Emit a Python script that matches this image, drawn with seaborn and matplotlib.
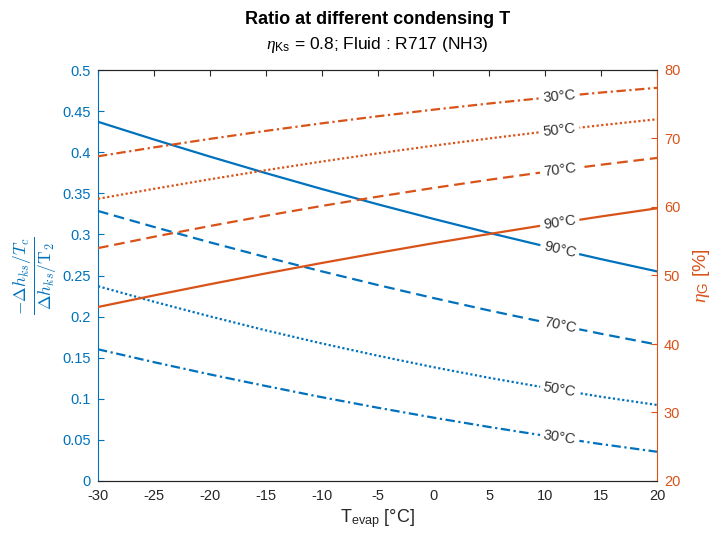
import numpy as np
import pandas as pd
import matplotlib
matplotlib.use("Agg")
import matplotlib.pyplot as plt
import seaborn as sns

# ---------------- data ----------------
t_evap = [-30, -25, -20, -15, -10, -5, 0, 5, 10, 15, 20]
cond_labels = ["30°C", "50°C", "70°C", "90°C"]

ratio_30 = [0.1602, 0.1446, 0.1297, 0.1156, 0.1020, 0.0892, 0.0771, 0.0657, 0.0550, 0.0449, 0.0356]
ratio_50 = [0.237, 0.2181, 0.2003, 0.1833, 0.1674, 0.1525, 0.1385, 0.1255, 0.1136, 0.1025, 0.0925]
ratio_70 = [0.3285, 0.3091, 0.2904, 0.2724, 0.2551, 0.2385, 0.2226, 0.2074, 0.1930, 0.1791, 0.1660]
ratio_90 = [0.437, 0.4155, 0.3947, 0.3746, 0.3553, 0.3367, 0.3189, 0.3018, 0.2855, 0.2699, 0.2550]

eta_30 = [67.40, 68.70, 69.94, 71.11, 72.21, 73.24, 74.21, 75.11, 75.94, 76.71, 77.40]
eta_50 = [61.20, 62.65, 64.04, 65.37, 66.63, 67.82, 68.95, 70.01, 71.01, 71.94, 72.81]
eta_70 = [54.00, 55.65, 57.22, 58.72, 60.15, 61.50, 62.78, 63.98, 65.12, 66.17, 67.16]
eta_90 = [45.40, 47.09, 48.72, 50.30, 51.82, 53.29, 54.71, 56.06, 57.37, 58.62, 59.81]

x_ticks = [-30, -25, -20, -15, -10, -5, 0, 5, 10, 15, 20]
left_ticks = [0, 0.05, 0.1, 0.15, 0.2, 0.25, 0.3, 0.35, 0.4, 0.45, 0.5]
right_ticks = [20, 30, 40, 50, 60, 70, 80]

# ---------------- style ----------------
sns.set_style("white")
plt.rcParams["font.family"] = ["Liberation Sans", "DejaVu Sans"]
plt.rcParams["mathtext.fontset"] = "custom"
plt.rcParams["mathtext.rm"] = "Liberation Sans"
plt.rcParams["mathtext.it"] = "Liberation Serif:italic"
plt.rcParams["mathtext.bf"] = "Liberation Sans:bold"
plt.rcParams["xtick.direction"] = "in"
plt.rcParams["ytick.direction"] = "in"

BLUE = "#0072BD"
ORANGE = "#D95319"
DARK = "#262626"

styles = ["dashdot", "dotted", "dashed", "solid"]
ls_map = {
    "dashdot": (0, (4.2, 1.6, 1.0, 1.6)),
    "dotted": (0, (1.0, 1.1)),
    "dashed": (0, (4.8, 2.6)),
    "solid": "-",
}
LW = 1.6

fig = plt.figure(figsize=(7.14, 5.43), dpi=100)
ax = fig.add_axes([98 / 714, 62 / 543, 559 / 714, 411 / 543])
ax2 = ax.twinx()

ratios = [ratio_30, ratio_50, ratio_70, ratio_90]
etas = [eta_30, eta_50, eta_70, eta_90]

for r, st in zip(ratios, styles):
    sns.lineplot(x=t_evap, y=r, ax=ax, color=BLUE, linestyle=ls_map[st], linewidth=LW)
for e, st in zip(etas, styles):
    sns.lineplot(x=t_evap, y=e, ax=ax2, color=ORANGE, linestyle=ls_map[st], linewidth=LW)

ax.set_xlim(-30, 20)
ax.set_ylim(0, 0.5)
ax2.set_ylim(20, 80)
ax.set_xticks(x_ticks)
ax.set_xticklabels([str(v) for v in x_ticks])
ax.set_yticks(left_ticks)
ax.set_yticklabels([f"{v:g}" for v in left_ticks])
ax2.set_yticks(right_ticks)
ax2.set_yticklabels([str(v) for v in right_ticks])

# spines / ticks
for a in (ax, ax2):
    for s in a.spines.values():
        s.set_linewidth(0.8)
        s.set_color(DARK)
ax.spines["left"].set_color(BLUE)
ax2.spines["left"].set_visible(False)
ax2.spines["right"].set_color(ORANGE)
ax.spines["right"].set_visible(False)

ax.tick_params(axis="x", colors=DARK, labelsize=10.5, length=4, top=True, width=0.8, pad=6)
ax.tick_params(axis="y", colors=BLUE, labelsize=10.5, length=4, width=0.8, pad=5)
ax2.tick_params(axis="y", colors=ORANGE, labelsize=10.5, length=4, width=0.8, pad=5)

ax.set_xlabel(r"T$_{\mathrm{evap}}$ [°C]", fontsize=13, color=DARK, labelpad=3)
ax.set_ylabel(r"$\frac{-\Delta h_{ks}/T_c}{\Delta h_{ks}/\mathrm{T}_2}$", fontsize=18,
              color=BLUE, labelpad=2, math_fontfamily="cm")
ax2.set_ylabel(r"$\eta_{\mathrm{G}}$ [%]", fontsize=14, color=ORANGE, rotation=90, labelpad=8)

cx = 0.5 * (98 + 657) / 714
fig.text(cx, 1 - 20 / 543, "Ratio at different condensing T",
         ha="center", va="center", fontsize=13, fontweight="bold", color="black")
fig.text(cx, 1 - 45 / 543, r"$\eta_{\mathrm{Ks}}$ = 0.8; Fluid : R717 (NH3)",
         ha="center", va="center", fontsize=12.5, color="black")

# inline labels
xl = 11.3
def put_label(a, xs, ys, text):
    yl = np.interp(xl, xs, ys)
    p1 = a.transData.transform((xl - 2, np.interp(xl - 2, xs, ys)))
    p2 = a.transData.transform((xl + 2, np.interp(xl + 2, xs, ys)))
    ang = np.degrees(np.arctan2(p2[1] - p1[1], p2[0] - p1[0]))
    a.text(xl, yl, text, rotation=ang, rotation_mode="anchor", ha="center", va="center",
           fontsize=10.5, color="#333333", zorder=5,
           bbox=dict(facecolor="white", edgecolor="none", pad=2.5))

for r, lab in zip(ratios, cond_labels):
    put_label(ax, t_evap, r, lab)
for e, lab in zip(etas, cond_labels):
    put_label(ax2, t_evap, e, lab)

fig.savefig("out.png", dpi=100)
